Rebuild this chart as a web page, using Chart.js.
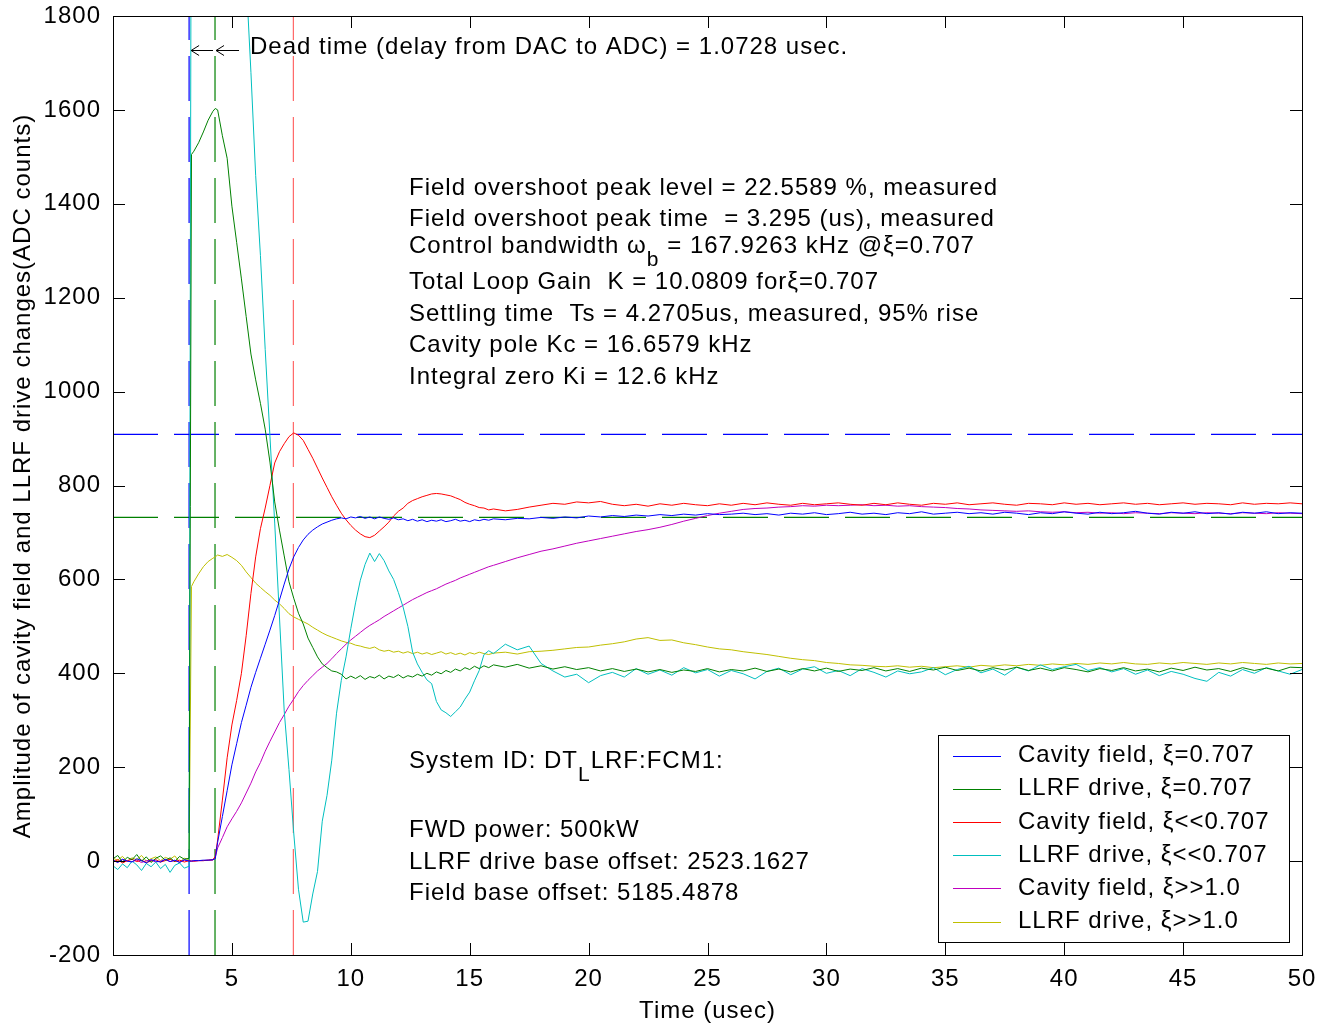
<!DOCTYPE html>
<html>
<head>
<meta charset="utf-8">
<script src="https://cdn.jsdelivr.net/npm/chart.js@4.4.0/dist/chart.umd.min.js"></script>
<style>
  html, body { margin: 0; padding: 0; background: #fff; }
  #wrap { width: 1319px; height: 1026px; position: relative; }
</style>
</head>
<body>
<div id="wrap"><canvas id="c"></canvas></div>
<script>
// time axis (usec)
var times = [
  0,0.2,0.4,0.6,0.8,1.0,1.2,1.4,1.6,1.8,2.0,2.2,2.4,2.6,2.8,3.0,3.2,
  3.3,3.4,3.6,3.8,4.0,4.2,4.3,
  4.4,4.6,4.8,5.0,5.2,5.4,5.6,5.8,6.0,6.2, 6.4,6.6,6.8,7.0,7.2,7.4,7.6,7.8,8.0,8.2,
  8.4,8.6,8.8,9.0,9.2,9.4,9.6,9.8,10.0,10.2, 10.4,10.6,10.8,11.0,11.2,11.4,11.6,11.8,12.0,12.2,
  12.4,12.6,12.8,13.0,13.2,13.4,13.6,13.8,14.0,14.2, 14.4,14.6,14.8,15.0,15.2,15.4,15.6,15.8,16.0,
  16.5,17,17.5,18,18.5,19,19.5,20,20.5,21, 21.5,22,22.5,23,23.5,24,24.5,25,25.5,26,
  26.5,27,27.5,28,28.5,29,29.5,30,30.5,31, 31.5,32,32.5,33,33.5,34,34.5,35,35.5,36,
  36.5,37,37.5,38,38.5,39,39.5,40,40.5,41, 41.5,42,42.5,43,43.5,44,44.5,45,45.5,46,
  46.5,47,47.5,48,48.5,49,49.5,50
];

// Cavity field, xi=0.707 (blue)
var cavityOpt = [
  2,-3,4,0,-2,5,1,-4,3,0,-2,4,-1,2,-3,3,0,
  0,1,1,2,2,3,5,
  40,95,150,205,250,295,332,370,402,432, 462,492,523,556,590,622,648,668,684,696,
  705,712,718,722,726,729,731,729,733,731, 734,730,733,729,733,730,728,731,727,729,
  725,728,724,727,723,726,724,727,723,725, 728,724,726,723,727,725,728,726,729,
  727,730,729,732,730,733,731,735,733,736, 734,737,735,738,736,739,737,740,738,739,
  741,738,740,737,741,739,742,738,740,743, 739,741,738,742,740,744,739,741,743,740,
  742,739,743,741,738,742,740,744,741,739, 743,740,742,745,741,739,743,741,744,740,
  742,739,743,741,744,740,742,741
];

// LLRF drive, xi=0.707 (green)
var driveOpt = [
  5,12,-2,8,3,14,0,9,-3,6,11,2,7,-1,10,4,6,
  1505,1512,1530,1553,1578,1597,1603,
  1600,1545,1497,1395,1318,1240,1160,1080,1025,975, 920,850,765,705,650,595,560,528,505,475,
  455,435,420,412,405,403,398,388,394,389, 395,387,393,390,396,388,394,391,397,390,
  395,392,398,394,400,396,403,399,406,402, 409,405,412,408,415,410,416,412,418,
  413,419,411,416,409,414,408,412,405,410, 404,409,403,408,402,407,404,410,403,408,
  405,411,404,409,403,410,405,411,404,409, 406,412,405,410,404,411,407,413,406,411,
  405,412,407,413,406,411,405,412,408,403, 410,406,412,405,409,403,411,406,413,407,
  410,404,412,406,411,405,413,412
];

// Cavity field, xi<<0.707 (red)
var cavityLow = [
  -2,3,-4,1,4,-1,2,-3,0,3,-2,1,4,-1,2,-2,1,
  0,0,1,1,2,3,10,
  45,130,220,290,342,400,480,570,648,708, 752,800,848,872,889,904,912,907,896,877,
  858,837,816,796,776,758,741,727,715,705, 697,691,689,694,703,712,722,735,745,752,
  762,768,772,776,779,782,783,782,780,778, 774,770,764,760,757,753,752,748,750,
  746,749,754,758,762,760,765,763,766,760, 757,760,756,761,758,762,759,757,761,758,
  762,759,763,760,758,762,759,761,763,760, 758,762,759,763,760,758,762,760,763,759,
  761,763,760,758,762,761,759,763,760,762, 759,761,763,760,762,759,761,763,760,762,
  761,759,763,760,762,761,763,761
];

// LLRF drive, xi<<0.707 (cyan)
var driveLow = [
  -10,-18,-6,-14,0,-8,-20,-5,-12,-2,-16,-7,-24,-9,-4,-15,-11,
  2400,2450,2520,2560,2580,2590,2595,
  2580,2520,2440,2340,2220,2080,1880,1680,1460,1290, 1090,905,720,520,320,195,60,-60,-130,-128,
  -70,-22,85,140,215,315,385,435,495,550, 598,632,656,638,655,640,618,600,572,541,
  500,445,420,402,386,378,340,322,316,308, 318,328,345,360,384,406,440,448,442,
  462,450,458,421,405,392,398,380,395,402, 392,410,398,407,396,412,401,408,394,406,
  399,388,404,411,397,409,414,400,406,395, 410,402,392,405,399,403,412,397,408,415,
  401,409,396,413,405,418,408,414,419,406, 412,403,410,398,407,395,404,398,389,383,
  402,394,408,400,412,405,398,408
];

// Cavity field, xi>>1.0 (magenta)
var cavityHigh = [
  1,-2,3,0,-1,2,-3,1,2,-2,0,3,-1,1,-2,2,0,
  0,0,1,1,2,2,8,
  28,50,73,90,106,124,145,166,190,210, 234,255,275,295,312,330,345,361,374,385,
  395,405,413,421,431,442,452,462,471,479, 487,495,502,508,514,521,527,533,539,545,
  551,557,562,567,572,576,580,585,590,594, 598,603,607,611,615,619,623,627,630,
  638,646,653,660,665,671,677,682,687,692, 697,702,706,711,717,724,730,736,741,745,
  749,751,752,754,755,757,756,758,757,758, 759,757,758,756,757,755,754,753,751,750,
  748,747,746,745,746,744,743,744,742,743, 741,742,740,742,741,740,742,741,740,742,
  741,740,742,741,740,742,741,740
];

// LLRF drive, xi>>1.0 (yellow)
var driveHigh = [
  6,2,10,-1,7,3,12,0,5,9,1,8,4,11,-2,6,3,
  585,595,612,627,638,645,648,
  652,649,653,647,640,630,616,604,592,583, 574,566,556,548,538,527,520,515,510,505,
  498,492,486,481,477,473,469,466,464,460, 458,455,453,456,450,447,449,445,447,443,
  446,442,445,441,444,440,443,446,441,444, 440,443,439,444,441,445,442,440,443,
  445,441,446,447,449,452,455,456,460,463, 467,473,476,470,471,465,461,456,452,450,
  446,443,440,436,432,429,427,423,421,418, 417,415,414,416,413,415,412,414,416,413,
  417,415,418,416,419,417,420,418,421,419, 422,420,423,420,419,422,420,423,421,419,
  422,420,423,421,419,422,420,421
];

var seriesNames = [
  'Cavity field, \u03BE=0.707',
  'LLRF drive, \u03BE=0.707',
  'Cavity field, \u03BE<<0.707',
  'LLRF drive, \u03BE<<0.707',
  'Cavity field, \u03BE>>1.0',
  'LLRF drive, \u03BE>>1.0'
];
var seriesValues = [cavityOpt, driveOpt, cavityLow, driveLow, cavityHigh, driveHigh];
var seriesColors = ['#0000ff', '#008000', '#ff0000', '#00bfbf', '#bf00bf', '#bfbf00'];

var xTicks = [0, 5, 10, 15, 20, 25, 30, 35, 40, 45, 50];
var yTicks = [-200, 0, 200, 400, 600, 800, 1000, 1200, 1400, 1600, 1800];

// marker levels
var deadStart = 3.2;
var deadEnd = 4.29;
var peakTime = 7.585;
var peakLevel = 909;
var finalLevel = 732;

var xTitle = 'Time (usec)';
var yTitle = 'Amplitude of cavity field and LLRF drive changes(ADC counts)';
var deadText = 'Dead time (delay from DAC to ADC) = 1.0728 usec.';
var infoLines = [
  [['Field overshoot peak level = 22.5589 %, measured']],
  [['Field overshoot peak time  = 3.295 (us), measured']],
  [['Control bandwidth \u03C9'], ['b', 1], [' = 167.9263 kHz @\u03BE=0.707']],
  [['Total Loop Gain  K = 10.0809 for\u03BE=0.707']],
  [['Settling time  Ts = 4.2705us, measured, 95% rise']],
  [['Cavity pole Kc = 16.6579 kHz']],
  [['Integral zero Ki = 12.6 kHz']]
];
var sysLines = [
  [['System ID: DT'], ['L', 1], ['LRF:FCM1:']],
  [['FWD power: 500kW']],
  [['LLRF drive base offset: 2523.1627']],
  [['Field base offset: 5185.4878']]
];

var FONT = '"Liberation Sans", Arial, Helvetica, sans-serif';
Chart.defaults.font.family = FONT;
Chart.defaults.font.size = 24;
Chart.defaults.color = '#000';

function pts(vals){
  return times.map(function(t, i){ return { x: t, y: vals[i] }; });
}

var datasets = seriesValues.map(function(vals, i){
  return {
    label: seriesNames[i],
    data: pts(vals),
    borderColor: seriesColors[i],
    borderWidth: 1,
    pointRadius: 0,
    tension: 0,
    fill: false
  };
});

function refLine(xs, ys, color){
  return {
    label: '',
    data: [{ x: xs[0], y: ys[0] }, { x: xs[1], y: ys[1] }],
    borderColor: color,
    borderWidth: 1.2,
    borderDash: [45, 16],
    pointRadius: 0,
    fill: false
  };
}
datasets.push(refLine([deadStart, deadStart], [-200, 1800], '#0000ff'));
datasets.push(refLine([deadEnd, deadEnd], [-200, 1800], '#008000'));
datasets.push(refLine([peakTime, peakTime], [-200, 1800], 'rgba(255,0,0,0.6)'));
datasets.push(refLine([0, 50], [peakLevel, peakLevel], '#0000ff'));
datasets.push(refLine([0, 50], [finalLevel, finalLevel], '#008000'));

function drawRich(ctx, parts, x, y){
  var cx = x;
  parts.forEach(function(p){
    if(p[1]){
      ctx.font = '21px ' + FONT;
      ctx.fillText(p[0], cx, y + 14);
    } else {
      ctx.font = '24px ' + FONT;
      ctx.fillText(p[0], cx, y);
    }
    cx += ctx.measureText(p[0]).width;
  });
}

function noPad(s){
  s.paddingTop = 0; s.paddingBottom = 0; s.paddingLeft = 0; s.paddingRight = 0;
}

var decor = {
  id: 'decor',
  beforeDraw: function(chart){
    chart.ctx.letterSpacing = '1px';
  },
  afterDraw: function(chart){
    var ctx = chart.ctx;
    var a = chart.chartArea;
    var xs = chart.scales.x, ys = chart.scales.y;
    ctx.save();
    ctx.letterSpacing = '1px';
    // axes box with inward ticks
    ctx.strokeStyle = '#000';
    ctx.lineWidth = 1;
    ctx.strokeRect(Math.round(a.left) + 0.5, Math.round(a.top) + 0.5, Math.round(a.right - a.left), Math.round(a.bottom - a.top));
    var tl = 12;
    ctx.beginPath();
    xTicks.forEach(function(v){
      var px = Math.round(xs.getPixelForValue(v)) + 0.5;
      ctx.moveTo(px, a.bottom); ctx.lineTo(px, a.bottom - tl);
      ctx.moveTo(px, a.top); ctx.lineTo(px, a.top + tl);
    });
    yTicks.forEach(function(v){
      var py = Math.round(ys.getPixelForValue(v)) + 0.5;
      ctx.moveTo(a.left, py); ctx.lineTo(a.left + tl, py);
      ctx.moveTo(a.right, py); ctx.lineTo(a.right - tl, py);
    });
    ctx.stroke();

    // y axis title
    ctx.fillStyle = '#000';
    ctx.font = '24px ' + FONT;
    ctx.save();
    ctx.translate(23, a.top + 460);
    ctx.rotate(-Math.PI / 2);
    ctx.textAlign = 'center';
    ctx.textBaseline = 'middle';
    ctx.fillText(yTitle, 0, 0);
    ctx.restore();

    // dead time arrows
    var ay = a.top + 34.5;
    var x1 = xs.getPixelForValue(deadStart) + 2;
    var x2 = xs.getPixelForValue(deadEnd) + 1;
    [[x1, x2 - 3], [x2, x2 + 23]].forEach(function(seg){
      ctx.beginPath();
      ctx.moveTo(seg[0], ay); ctx.lineTo(seg[1], ay);
      ctx.moveTo(seg[0] + 8, ay - 5); ctx.lineTo(seg[0], ay); ctx.lineTo(seg[0] + 8, ay + 5);
      ctx.stroke();
    });
    ctx.textBaseline = 'middle';
    ctx.textAlign = 'left';
    ctx.font = '24px ' + FONT;
    ctx.fillText(deadText, a.left + 137, a.top + 31);

    // info texts
    var infoY = [172, 203, 230, 266, 298, 329, 361];
    infoLines.forEach(function(parts, i){ drawRich(ctx, parts, a.left + 296, a.top + infoY[i]); });
    var sysY = [745, 814, 846, 877];
    sysLines.forEach(function(parts, i){ drawRich(ctx, parts, a.left + 296, a.top + sysY[i]); });

    // legend box
    var lx = 938.5, ly = 735.5, lw = 351, lh = 207;
    ctx.fillStyle = '#fff';
    ctx.fillRect(lx, ly, lw, lh);
    ctx.strokeStyle = '#000';
    ctx.strokeRect(lx, ly, lw, lh);
    ctx.font = '24px ' + FONT;
    for(var i = 0; i < seriesNames.length; i++){
      var ry = 755.5 + i * 33.2;
      ctx.strokeStyle = seriesColors[i];
      ctx.beginPath();
      ctx.moveTo(953, Math.round(ry) + 0.5); ctx.lineTo(1001, Math.round(ry) + 0.5);
      ctx.stroke();
      ctx.fillStyle = '#000';
      ctx.fillText(seriesNames[i], 1018, ry);
    }
    ctx.restore();
  }
};

new Chart(document.getElementById('c'), {
  type: 'line',
  data: { datasets: datasets },
  options: {
    responsive: true,
    maintainAspectRatio: false,
    animation: false,
    layout: { padding: { left: 0, right: 17, top: 16, bottom: 0 } },
    plugins: { legend: { display: false }, tooltip: { enabled: false } },
    scales: {
      x: {
        type: 'linear', min: 0, max: 50,
        afterBuildTicks: function(s){ s.ticks = xTicks.map(function(v){ return { value: v }; }); },
        afterFit: function(s){ s.height = 71; noPad(s); },
        grid: { display: false, drawTicks: false },
        border: { display: false },
        ticks: { padding: 10, maxRotation: 0, autoSkip: false, color: '#000', font: { size: 24 },
          callback: function(v){ return String(v); } },
        title: { display: true, text: xTitle, color: '#000', font: { size: 24 }, padding: { top: 0, bottom: 0 } }
      },
      y: {
        type: 'linear', min: -200, max: 1800,
        afterBuildTicks: function(s){ s.ticks = yTicks.map(function(v){ return { value: v }; }); },
        afterFit: function(s){ s.width = 113; noPad(s); },
        grid: { display: false, drawTicks: false },
        border: { display: false },
        ticks: { padding: 12, autoSkip: false, color: '#000', font: { size: 24 },
          callback: function(v){ return String(v); } },
        title: { display: false }
      }
    }
  },
  plugins: [decor]
});
</script>
</body>
</html>
